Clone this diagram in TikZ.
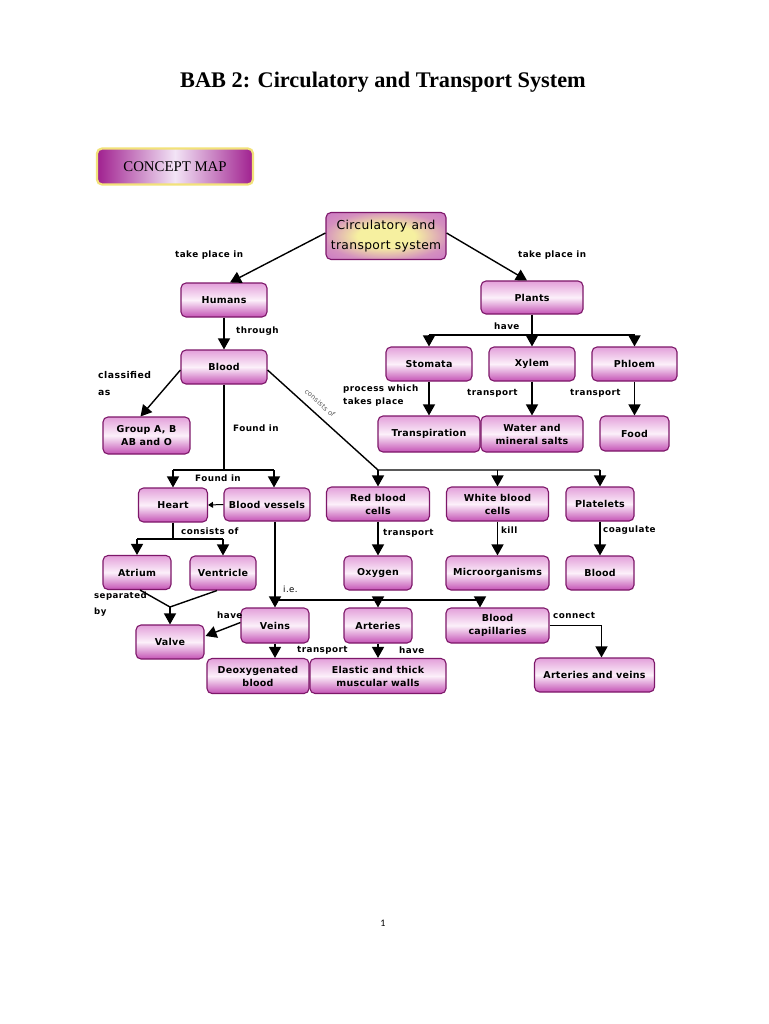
\documentclass[tikz,border=0pt]{standalone}
\usepackage{fontspec}
\setmainfont{Liberation Serif}
\newfontfamily\cf{DejaVu Sans}[LetterSpace=3]
\newfontfamily\lf{DejaVu Sans}[LetterSpace=5]
\newfontfamily\pf{Carlito}
\usetikzlibrary{arrows.meta,calc,shadings}
\definecolor{bdr}{HTML}{7D1769}
\definecolor{pktop}{HTML}{E3A0DA}
\definecolor{pkmid}{HTML}{FCF0FA}
\definecolor{pkbot}{HTML}{C452B5}
\definecolor{cmedge}{HTML}{A0208F}
\definecolor{cmmid}{HTML}{F2E4F6}
\definecolor{glow}{HTML}{F2E27A}
\definecolor{yel}{HTML}{F6F0A0}
\definecolor{vio}{HTML}{CC78C6}
\pgfdeclareradialshading{circsh}{\pgfpoint{0bp}{0bp}}{color(0bp)=(yel); color(12bp)=(yel); color(26bp)=(vio!80!yel); color(36bp)=(vio); color(50bp)=(vio)}
\tikzset{
  box/.style={draw=bdr, line width=1.1pt, rounded corners=5pt,
    top color=pktop, bottom color=pkbot, middle color=pkmid,
    font=\cf\bfseries\fontsize{9.5}{13}\selectfont, align=center,
    inner sep=1pt},
  lbl/.style={font=\lf\bfseries\fontsize{8.8}{13}\selectfont, inner sep=0pt, align=left},
  ln/.style={line width=1.4pt},
  arr/.style={line width=1.4pt, -{Triangle[width=12pt,length=11pt]}},
}
\begin{document}
\begin{tikzpicture}[x=1pt,y=-1pt]
\useasboundingbox (0,0) rectangle (768,1024);
\fill[white] (0,0) rectangle (768,1024);

% title
\node[font=\bfseries\fontsize{22.3}{26}\selectfont] (title) at (383,82) {BAB 2: Circulatory and Transport System};

% concept map banner
\node[draw=glow, line width=2.2pt, rounded corners=5pt, left color=cmedge, right color=cmedge, middle color=cmmid,
  minimum width=156pt, minimum height=36pt, font=\fontsize{14.8}{16}\selectfont] (cmap) at (175,166.5) {CONCEPT MAP};

% nodes
\node[draw=bdr, line width=1.1pt, rounded corners=5pt, shading=circsh,
  minimum width=120pt, minimum height=47pt, font=\cf\fontsize{12.3}{19.5}\selectfont, align=center, inner sep=1pt]
  (circ) at (386,236) {Circulatory and\\transport system};
\node[box, minimum width=86pt, minimum height=34pt] (humans) at (224,300) {Humans};
\node[box, minimum width=102pt, minimum height=33pt] (plants) at (532,297.5) {Plants};
\node[box, minimum width=86pt, minimum height=34pt] (blood) at (224,367) {Blood};
\node[box, minimum width=86pt, minimum height=34pt] (stomata) at (429,364) {Stomata};
\node[box, minimum width=86pt, minimum height=34pt] (xylem) at (532,364) {Xylem};
\node[box, minimum width=85pt, minimum height=34pt] (phloem) at (634.5,364) {Phloem};
\node[box, minimum width=87pt, minimum height=37pt] (group) at (146.5,435.5) {Group A, B\\AB and O};
\node[box, minimum width=102pt, minimum height=36pt] (transp) at (429,434) {Transpiration};
\node[box, minimum width=102pt, minimum height=36pt] (water) at (532,434) {Water and\\mineral salts};
\node[box, minimum width=69pt, minimum height=35pt] (food) at (634.5,433.5) {Food};
\node[box, minimum width=69pt, minimum height=34pt] (heart) at (173,505) {Heart};
\node[box, minimum width=86pt, minimum height=33pt] (vessels) at (267,504.5) {Blood vessels};
\node[box, minimum width=103pt, minimum height=34pt] (rbc) at (378,504) {Red blood\\cells};
\node[box, minimum width=102pt, minimum height=34pt] (wbc) at (497.5,504) {White blood\\cells};
\node[box, minimum width=68pt, minimum height=34pt] (platelets) at (600,504) {Platelets};
\node[box, minimum width=68pt, minimum height=34pt] (atrium) at (137,572.5) {Atrium};
\node[box, minimum width=66pt, minimum height=34pt] (ventricle) at (223,573) {Ventricle};
\node[box, minimum width=68pt, minimum height=34pt] (oxygen) at (378,573) {Oxygen};
\node[box, minimum width=103pt, minimum height=34pt] (micro) at (497.5,573) {Microorganisms};
\node[box, minimum width=68pt, minimum height=34pt] (blood2) at (600,573) {Blood};
\node[box, minimum width=68pt, minimum height=34pt] (valve) at (170,642) {Valve};
\node[box, minimum width=68pt, minimum height=35pt] (veins) at (275,625.5) {Veins};
\node[box, minimum width=68pt, minimum height=35pt] (arteries) at (378,625.5) {Arteries};
\node[box, minimum width=103pt, minimum height=35pt] (capill) at (497.5,625.5) {Blood\\capillaries};
\node[box, minimum width=102pt, minimum height=35pt] (deoxy) at (258,676) {Deoxygenated\\blood};
\node[box, minimum width=136pt, minimum height=35pt] (elastic) at (378,676) {Elastic and thick\\muscular walls};
\node[box, minimum width=120pt, minimum height=34pt] (artveins) at (594.5,675) {Arteries and veins};

% helper coordinates
\coordinate (ph) at (532,335);
\coordinate (fj) at (224,470);
\coordinate (vx) at (274,470);
\coordinate (hj) at (173,539);
\coordinate (vj) at (170,607);
\coordinate (ij) at (275,600);
\coordinate (cx) at (480,600);

% connectors
\draw[arr] ($(circ.west)+(0,-3)$) -- ($(humans.north)+(6,0)$);
\draw[arr] ($(circ.east)+(0,-3)$) -- ($(plants.north)+(-5,0)$);
\draw[arr] (humans.south) -- (blood.north);
\draw[ln] (plants.south) -- (ph);
\draw[ln] (stomata.north |- ph) -- (phloem.north |- ph);
\draw[arr] (stomata.north |- ph) -- (stomata.north);
\draw[arr] (ph) -- (xylem.north);
\draw[arr] (phloem.north |- ph) -- (phloem.north);
\draw[arr] (stomata.south) -- (transp.north);
\draw[arr] (xylem.south) -- (water.north);
\draw[arr] (phloem.south) -- (food.north);
\draw[arr] ($(blood.west)+(0,3)$) -- ($(group.north)+(-6,0)$);
\draw[ln] (blood.south) -- (fj);
\draw[ln] (heart.north |- fj) -- (vx);
\draw[arr] (heart.north |- fj) -- (heart.north);
\draw[arr] (vx) -- (vx |- vessels.north);
\draw[ln] ($(blood.east)+(0,3)$) -- (rbc.north |- fj) -- (platelets.north |- fj);
\draw[arr] (rbc.north |- fj) -- (rbc.north);
\draw[arr] (wbc.north |- fj) -- (wbc.north);
\draw[arr] (platelets.north |- fj) -- (platelets.north);
\draw[line width=1pt, -{Triangle[width=6pt,length=5pt]}] (vessels.west) -- (heart.east);
\draw[ln] (heart.south) -- (hj);
\draw[ln] (atrium.north |- hj) -- (ventricle.north |- hj);
\draw[arr] (atrium.north |- hj) -- (atrium.north);
\draw[arr] (ventricle.north |- hj) -- (ventricle.north);
\draw[ln] ($(atrium.south)+(3,0)$) -- (vj) -- ($(ventricle.south)+(-6,0)$);
\draw[arr] (vj) -- (valve.north);
\draw[arr] (vessels.south -| veins.north) -- (veins.north);
\draw[ln] (ij) -- (cx);
\draw[arr] (arteries.north |- ij) -- (arteries.north);
\draw[arr] (cx) -- (cx |- capill.north);
\draw[arr] (rbc.south) -- (oxygen.north);
\draw[arr] (wbc.south) -- (micro.north);
\draw[arr] (platelets.south) -- (blood2.north);
\draw[arr] ($(veins.west)+(0,-3)$) -- ($(valve.east)+(1,-6)$);
\draw[arr] (veins.south) -- (veins.south |- deoxy.north);
\draw[arr] (arteries.south) -- (elastic.north);
\draw[arr] (capill.east) -| ($(artveins.north)+(7,0)$);

% labels
\node[lbl, anchor=west] (l1) at (175,255) {take place in};
\node[lbl, anchor=west] (l2) at (518,255) {take place in};
\node[lbl, anchor=west] (l3) at (236,331) {through};
\node[lbl, anchor=west] (l4) at (494,326) {have};
\node[lbl, anchor=north west] (l5) at (343,385) {process which\\takes place};
\node[lbl, anchor=west] (l6) at (467,393) {transport};
\node[lbl, anchor=west] (l7) at (570,393) {transport};
\node[lbl, anchor=north west, font=\lf\bfseries\fontsize{9.3}{17}\selectfont] (l8) at (98,371) {classified\\as};
\node[lbl, anchor=west] (l9) at (233,428) {Found in};
\node[lbl, anchor=center] (l10) at (218,478) {Found in};
\node[font=\cf\fontsize{6.8}{8}\selectfont, text=black!65, rotate=-42, inner sep=0pt] (l11) at (320,403) {consists of};
\node[lbl, anchor=west] (l12) at (181,531) {consists of};
\node[lbl, anchor=west] (l13) at (383,533) {transport};
\node[lbl, anchor=west] (l14) at (501,530) {kill};
\node[lbl, anchor=west] (l15) at (603,530) {coagulate};
\node[lbl, anchor=north west, font=\lf\bfseries\fontsize{8.6}{16}\selectfont] (l16) at (94,592) {separated\\by};
\node[lbl, anchor=west, font=\lf\fontsize{8.6}{9}\selectfont] (l17) at (283,589) {i.e.};
\node[lbl, anchor=west] (l18) at (217,615) {have};
\node[lbl, anchor=west] (l19) at (297,650) {transport};
\node[lbl, anchor=west] (l20) at (399,650) {have};
\node[lbl, anchor=west] (l21) at (553,615) {connect};

% page number
\node[font=\pf\fontsize{10}{12}\selectfont] (pg) at (383,923) {1};
\end{tikzpicture}
\end{document}
